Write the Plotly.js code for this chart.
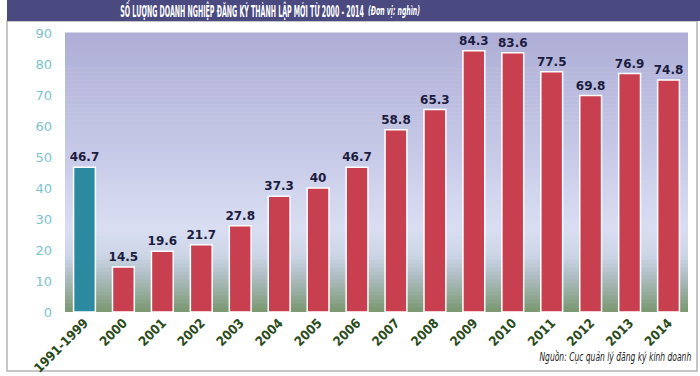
<!DOCTYPE html>
<html>
<head>
<meta charset="utf-8">
<script src="https://cdn.plot.ly/plotly-3.0.1.min.js"></script>
<style>html,body{margin:0;padding:0;background:#fff;}#chart{width:700px;height:376px;}</style>
</head>
<body>
<div id="chart"></div>
<script>
var categories = ["1991-1999","2000","2001","2002","2003","2004","2005","2006","2007","2008","2009","2010","2011","2012","2013","2014"];
var values = [46.7,14.5,19.6,21.7,27.8,37.3,40,46.7,58.8,65.3,84.3,83.6,77.5,69.8,76.9,74.8];
var labels = ["46.7","14.5","19.6","21.7","27.8","37.3","40","46.7","58.8","65.3","84.3","83.6","77.5","69.8","76.9","74.8"];
var yTicks = [0,10,20,30,40,50,60,70,80,90];
var titleText = "SỐ LƯỢNG DOANH NGHIỆP ĐĂNG KÝ THÀNH LẬP MỚI TỪ 2000 - 2014";
var unitText = "(Đơn vị: nghìn)";
var sourceText = "Nguồn: Cục quản lý đăng ký kinh doanh";

var W = 700, H = 376, L = 65, R = 12, T = 33, B = 64;
var pw = W - L - R, ph = H - T - B;
function px(x){ return (x - L) / pw; }
function py(y){ return (H - B - y) / ph; }

var barColors = categories.map(function(c, i){ return i === 0 ? "#2b8a9f" : "#c8404f"; });

// background gradient bands
var stops = [[0,[174,174,214]],[0.45,[200,203,232]],[0.7,[218,222,242]],[0.8,[204,213,230]],[0.88,[172,188,192]],[1,[122,152,112]]];
function colAt(t){
  for (var i=1;i<stops.length;i++){
    if (t <= stops[i][0]){
      var a=stops[i-1], b=stops[i], f=(t-a[0])/(b[0]-a[0]);
      var c=a[1].map(function(v,k){return Math.round(v+(b[1][k]-v)*f);});
      return "rgb("+c.join(",")+")";
    }
  }
  return "rgb("+stops[stops.length-1][1].join(",")+")";
}
var shapes = [];
var N = 70;
for (var i=0;i<N;i++){
  var t0 = i/N, t1=(i+1)/N;
  shapes.push({type:"rect", xref:"paper", yref:"paper", x0:0, x1:1, y0:1-t1, y1:1-t0+0.002,
    fillcolor: colAt((t0+t1)/2), line:{width:0}, layer:"below"});
}
// outer frame
shapes.push({type:"rect", xref:"paper", yref:"paper", x0:px(7), x1:px(697), y0:py(371), y1:py(21),
  fillcolor:"rgba(0,0,0,0)", line:{color:"#b4b4b4", width:1.5}, layer:"below"});
// title bar
shapes.push({type:"rect", xref:"paper", yref:"paper", x0:px(7), x1:px(700), y0:py(21), y1:py(0),
  fillcolor:"#4a4a80", line:{width:0}, layer:"below"});

var data = [{
  type:"bar", x:categories, y:values, text:labels, textposition:"outside", constraintext:"none",
  textfont:{family:"DejaVu Sans, Verdana, sans-serif", size:12, color:"#1c1c40", weight:"bold"},
  marker:{color:barColors, line:{color:"#ffffff", width:1.5}},
  cliponaxis:false, hoverinfo:"skip"
}];

var condFont = "DejaVu Sans Condensed, sans-serif";
var layout = {
  width:W, height:H, margin:{l:L, r:R, t:T, b:B, pad:0},
  paper_bgcolor:"#ffffff", plot_bgcolor:"rgba(0,0,0,0)",
  showlegend:false, bargap:0.44,
  xaxis:{type:"category", tickmode:"array", tickvals:categories, ticktext:categories,
    tickangle:-45, showgrid:false, zeroline:false, showline:false, ticks:"",
    tickfont:{family:condFont, size:13, color:"#2b4a1a", weight:"bold"}},
  yaxis:{range:[0,90], tickvals:yTicks, showgrid:false, zeroline:false, showline:false, ticks:"",
    ticklabelstandoff:12,
    tickfont:{family:"DejaVu Sans, Verdana, sans-serif", size:13, color:"#7cc3cf"}},
  shapes:shapes,
  annotations:[
    {xref:"paper", yref:"paper", x:px(118), y:py(11), xanchor:"left", yanchor:"middle", showarrow:false,
     text:"<b>"+titleText+"</b>", font:{family:condFont, size:15, color:"#ffffff"}},
    {xref:"paper", yref:"paper", x:px(366), y:py(11), xanchor:"left", yanchor:"middle", showarrow:false,
     text:"<b><i>"+unitText+"</i></b>", font:{family:condFont, size:13, color:"#ffffff"}},
    {xref:"paper", yref:"paper", x:px(693), y:py(357), xanchor:"right", yanchor:"middle", showarrow:false,
     text:"<i>"+sourceText+"</i>", font:{family:condFont, size:12, color:"#222222"}}
  ]
};
// horizontal squeeze: [target width px, fixed side]
var squeeze = [[244, "left"], [52, "left"], [152, "right"]];
Plotly.newPlot("chart", data, layout, {staticPlot:true, displayModeBar:false}).then(function(gd){
  var anns = gd.querySelectorAll(".annotation-text");
  for (var k=0;k<anns.length && k<squeeze.length;k++){
    var el = anns[k], bb = el.getBBox();
    var s = squeeze[k][0] / bb.width;
    var ox = squeeze[k][1] === "left" ? bb.x : bb.x + bb.width;
    var prev = el.getAttribute("transform") || "";
    el.setAttribute("transform", prev + " translate(" + (ox*(1-s)) + " 0) scale(" + s + " 1)");
  }
});
</script>
</body>
</html>
